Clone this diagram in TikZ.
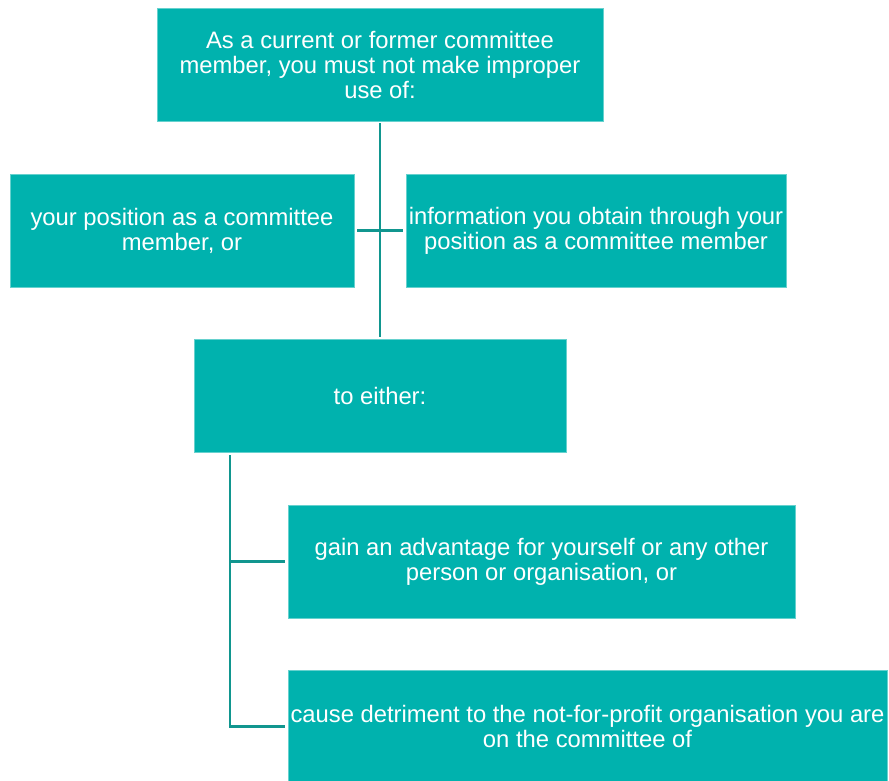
\documentclass[tikz,border=0pt]{standalone}
\usepackage{fontspec}
\setmainfont{Liberation Sans}
\usetikzlibrary{positioning}
\definecolor{boxteal}{HTML}{00B2AE}
\definecolor{lineteal}{HTML}{11968F}
\tikzset{
    rulebox/.style={fill=boxteal, draw=boxteal!60!white, line width=0.4pt, text=white, align=center,
        inner sep=0pt, minimum height=113pt,
        font=\fontsize{23.8}{25}\selectfont},
    link/.style={draw=lineteal, line width=2.2pt}
}
\begin{document}
\begin{tikzpicture}[x=1pt,y=-1pt]
    \useasboundingbox (0,0) rectangle (889,780);

    % draw the boxes
    \node[rulebox, minimum width=446pt] (misuse) at (380,64.5)
        {As a current or former committee\\member, you must not make improper\\use of:};
    \node[rulebox, minimum width=344pt] (position) at (182,230.5)
        {your position as a committee\\member, or};
    \node[rulebox, minimum width=380pt] (information) at (596,230.5)
        {information you obtain through your\\position as a committee member};
    \node[rulebox, minimum width=372pt] (either) at (380,395.5)
        {to either:};
    \node[rulebox, minimum width=507pt] (advantage) at (541.5,561.5)
        {gain an advantage for yourself or any other\\person or organisation, or};
    \node[rulebox, minimum width=599pt] (detriment) at (587.5,726.5)
        {cause detriment to the not-for-profit organisation you are\\on the committee of};

    % draw the connecting lines
    \coordinate (rail) at (230,0);
    \draw[link, shorten <=2pt, shorten >=2pt] (misuse.south) -- (either.north);
    \draw[link, shorten <=3pt, shorten >=3pt] (position.east) -- (information.west);
    \draw[link, shorten <=3pt, shorten >=3pt] (either.south -| rail) |- (detriment.west);
    \draw[link, shorten >=3pt] (rail |- advantage.west) -- (advantage.west);
\end{tikzpicture}
\end{document}
